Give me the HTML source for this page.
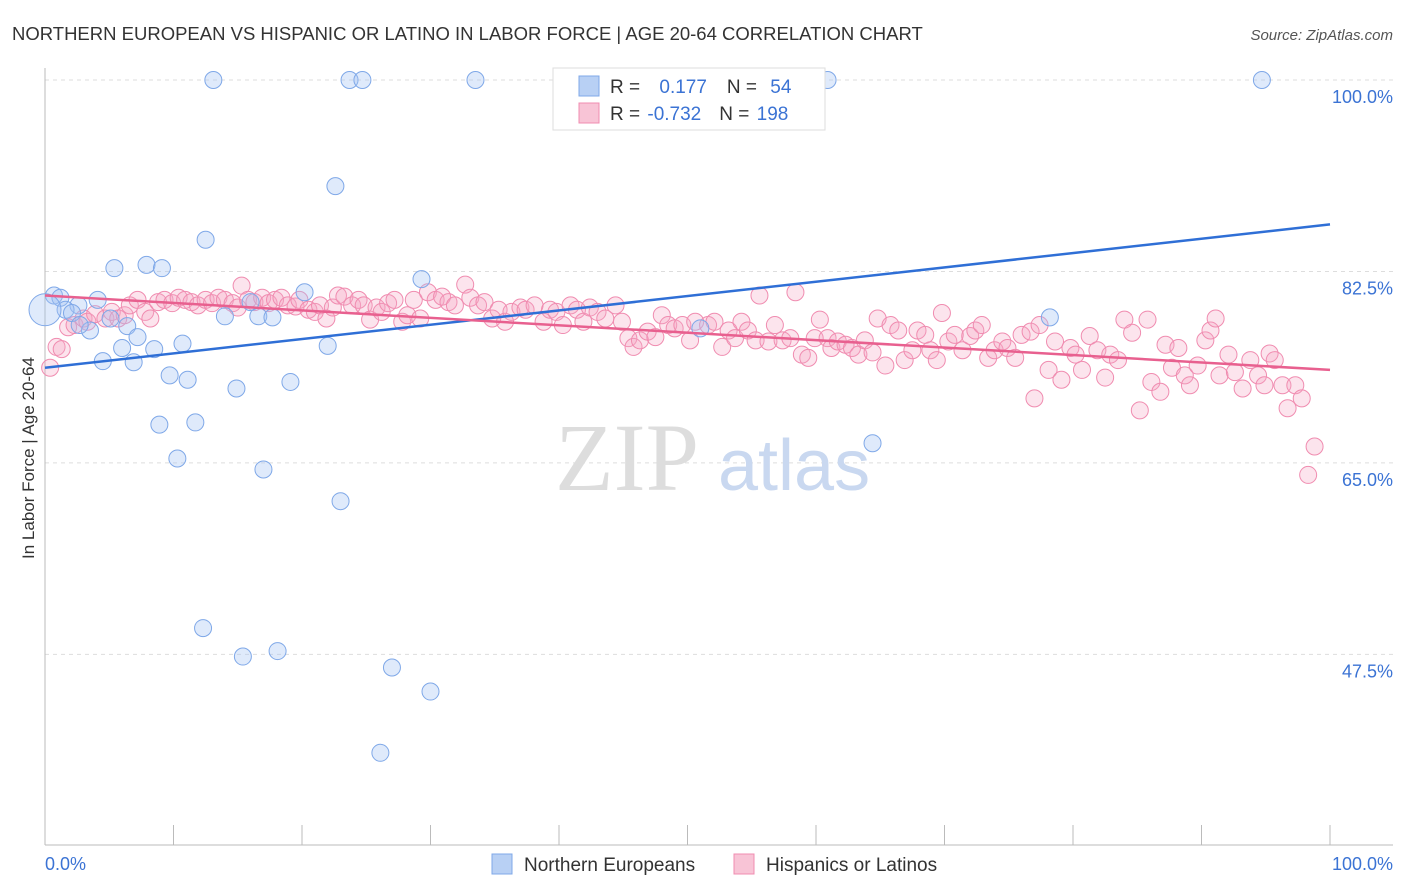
<!DOCTYPE html>
<html><head><meta charset="utf-8"><style>
body{margin:0;background:#fff;font-family:"Liberation Sans",sans-serif;}
svg{display:block}
</style></head><body>
<svg id="chart" width="1406" height="892" xmlns="http://www.w3.org/2000/svg">
<text x="12" y="40" font-size="18.5" fill="#333">NORTHERN EUROPEAN VS HISPANIC OR LATINO IN LABOR FORCE | AGE 20-64 CORRELATION CHART</text>
<text x="1393" y="40" font-size="15" fill="#555" font-style="italic" text-anchor="end">Source: ZipAtlas.com</text>
<text x="34" y="458" font-size="17" fill="#333" text-anchor="middle" transform="rotate(-90 34 458)">In Labor Force | Age 20-64</text>
<g id="grid"></g>
<g><text x="555" y="490" font-size="96" fill="#ddd" font-family="Liberation Serif,serif">ZIP</text><text x="718" y="490" font-size="72" fill="#c9d8f0">atlas</text></g>
<g id="pts"></g>
<g id="lines"></g>
<g>
<rect x="553" y="68" width="272" height="62" fill="#fff" stroke="#ddd"/>
<rect x="579" y="76" width="20" height="20" fill="#b8d0f4" stroke="#7fa8e8"/>
<rect x="579" y="103" width="20" height="20" fill="#f8c4d6" stroke="#f08cb0"/>
<text x="610" y="93" font-size="19" fill="#333">R = <tspan fill="#3b73d4" dx="14">0.177</tspan><tspan fill="#333" dx="20">N = </tspan><tspan fill="#3b73d4" dx="8">54</tspan></text>
<text x="610" y="120" font-size="19" fill="#333">R = <tspan fill="#3b73d4" dx="2">-0.732</tspan><tspan fill="#333" dx="18">N = </tspan><tspan fill="#3b73d4" dx="2">198</tspan></text>
</g>
<g>
<rect x="492" y="854" width="20" height="20" fill="#b8d0f4" stroke="#7fa8e8"/>
<text x="524" y="871" font-size="19" fill="#333">Northern Europeans</text>
<rect x="734" y="854" width="20" height="20" fill="#f8c4d6" stroke="#f08cb0"/>
<text x="766" y="871" font-size="19" fill="#333">Hispanics or Latinos</text>
</g>
</svg>
<script>
const yTicks=[100,82.5,65,47.5];
const yTickLabels=["100.0%","82.5%","65.0%","47.5%"];
const xTickLabels=["0.0%","100.0%"];
const blueX=[13.1,23.7,24.7,33.5,40.9,60.9,94.7,22.6,12.5,5.4,7.9,9.1,29.3,20.2,0.7,1.2,4.1,2.6,1.6,2.1,16.0,14.0,16.6,17.7,3.5,6.4,5.1,7.2,6.0,8.5,10.7,22.0,4.5,6.9,9.7,11.1,14.9,19.1,8.9,11.7,10.3,17.0,23.0,64.4,51.0,78.2,12.3,15.4,18.1,27.0,30.0,26.1,0,2.7];
const blueY=[100,100,100,100,100,100,100,90.3,85.4,82.8,83.1,82.8,81.8,80.6,80.3,80.1,79.9,79.4,79.0,78.7,79.7,78.4,78.4,78.3,77.1,77.5,78.2,76.5,75.5,75.4,75.9,75.7,74.3,74.2,73.0,72.6,71.8,72.4,68.5,68.7,65.4,64.4,61.5,66.8,77.3,78.3,49.9,47.3,47.8,46.3,44.1,38.5,79.0,77.6];
const pinkX=[0.4,0.9,1.3,1.8,2.3,3.0,3.3,3.9,4.7,5.2,5.7,6.2,6.6,7.2,7.8,8.2,8.8,9.3,9.9,10.4,10.9,11.4,11.9,12.5,13.0,13.5,14.0,14.6,15.3,15.0,15.8,16.3,16.9,17.4,17.9,18.4,18.9,19.5,19.8,20.5,21.0,21.4,21.9,22.4,22.8,23.3,23.9,24.4,24.8,25.3,25.8,26.2,26.7,27.2,27.8,28.2,28.7,29.2,29.8,30.4,30.9,31.4,31.9,32.7,33.1,33.7,34.2,34.8,35.3,35.8,36.3,37.0,37.4,38.1,38.8,39.3,39.8,40.3,40.9,41.4,41.9,42.4,43.0,43.6,44.4,44.9,45.4,45.8,46.3,46.9,47.5,48.0,48.5,49.0,49.6,50.2,50.6,51.6,52.1,52.7,53.2,53.7,54.2,54.7,55.3,55.6,56.3,56.8,57.4,58.0,58.4,58.9,59.4,59.9,60.3,60.9,61.2,61.7,62.3,62.8,63.3,63.8,64.4,64.8,65.4,65.8,66.4,66.9,67.5,67.9,68.5,68.9,69.4,69.8,70.3,70.8,71.4,72.0,72.4,72.9,73.4,73.9,74.5,74.9,75.5,76.0,76.7,77.0,77.4,78.1,78.6,79.1,79.8,80.2,80.7,81.3,81.9,82.5,82.9,83.5,84.0,84.6,85.2,85.8,86.1,86.8,87.2,87.7,88.2,88.7,89.1,89.7,90.3,90.7,91.1,91.4,92.1,92.6,93.2,93.8,94.4,94.9,95.3,95.7,96.3,96.7,97.3,97.8,98.3,98.8];
const pinkY=[73.7,75.6,75.4,77.4,77.6,78.2,77.9,78.6,78.2,78.8,78.2,78.5,79.4,79.9,78.8,78.2,79.7,79.9,79.6,80.1,79.9,79.7,79.4,79.9,79.6,80.1,79.9,79.6,81.2,79.2,79.9,79.7,80.1,79.6,79.9,80.1,79.4,79.3,79.9,79.0,78.8,79.4,78.2,79.2,80.3,80.2,79.4,79.9,79.4,78.1,79.2,78.8,79.6,79.9,77.9,78.5,79.9,78.2,80.6,79.9,80.2,79.7,79.4,81.3,80.1,79.4,79.7,78.2,79.0,77.9,78.8,79.2,79.0,79.4,77.9,79.0,78.8,77.6,79.4,79.0,77.9,79.2,78.8,78.2,79.4,77.9,76.4,75.6,76.2,77.0,76.5,78.5,77.6,77.3,77.6,76.2,77.9,77.6,77.9,75.6,77.1,76.4,77.9,77.1,76.2,80.3,76.1,77.6,76.2,76.4,80.6,74.9,74.6,76.4,78.1,76.4,75.5,76.1,75.8,75.5,74.9,76.2,75.1,78.2,73.9,77.6,77.1,74.4,75.3,77.1,76.7,75.3,74.4,78.7,76.1,76.7,75.3,76.6,77.1,77.6,74.6,75.3,76.1,75.5,74.6,76.7,77.0,70.9,77.6,73.5,76.1,72.6,75.5,74.9,73.5,76.6,75.3,72.8,74.9,74.4,78.1,76.9,69.8,78.1,72.4,71.5,75.8,73.7,75.5,73.0,72.1,73.9,76.2,77.1,78.2,73.0,74.9,73.3,71.8,74.4,73.0,72.1,75.0,74.4,72.1,70.0,72.1,70.9,63.9,66.5];
const blueLine=[73.7,86.8];
const pinkLine=[80.3,73.5];
const NS='http://www.w3.org/2000/svg';
const X=v=>45+v*12.85, Y=v=>80+(100-v)*10.94;
function mk(tag,attrs,parent){const e=document.createElementNS(NS,tag);for(const k in attrs)e.setAttribute(k,attrs[k]);parent.appendChild(e);return e;}
const grid=document.getElementById('grid');
yTicks.forEach((t,i)=>{
 const l=mk('line',{x1:45,x2:1393,y1:Y(t),y2:Y(t),stroke:'#ddd','stroke-dasharray':'4 4'},grid);
 
 
 const tx=mk('text',{x:1393,y:Y(t)+23,'font-size':18,fill:'#3b73d4','text-anchor':'end'},grid);
 tx.textContent=yTickLabels[i];
 
 
});
mk('line',{x1:45,x2:45,y1:68,y2:845,stroke:'#bbb'},grid);
mk('line',{x1:45,x2:1393,y1:845,y2:845,stroke:'#bbb'},grid);
for(let i=0;i<=10;i++){const t=mk('line',{x1:X(i*10),x2:X(i*10),y1:825,y2:845,stroke:'#bbb'},grid);
 
 }
const xl0=mk('text',{x:45,y:870,'font-size':18,fill:'#3b73d4'},grid);xl0.textContent=xTickLabels[0];


const xl1=mk('text',{x:1393,y:870,'font-size':18,fill:'#3b73d4','text-anchor':'end'},grid);xl1.textContent=xTickLabels[1];


const pts=document.getElementById('pts');
pinkX.forEach((x,i)=>{const c=mk('circle',{cx:X(x),cy:Y(pinkY[i]),r:8.5,fill:'rgba(244,164,194,0.3)',stroke:'#f08cb0','stroke-width':1},pts);
 
 });
blueX.forEach((x,i)=>{const big=(i===52);const c=mk('circle',{cx:X(x),cy:Y(blueY[i]),r:big?16:8.5,fill:'rgba(164,194,244,0.35)',stroke:'#7fa8e8','stroke-width':1},pts);
 
 });
const lines=document.getElementById('lines');
const bl=mk('line',{x1:X(0),y1:Y(blueLine[0]),x2:X(100),y2:Y(blueLine[1]),stroke:'#2f6fd6','stroke-width':2.5},lines);


const pl=mk('line',{x1:X(0),y1:Y(pinkLine[0]),x2:X(100),y2:Y(pinkLine[1]),stroke:'#e8608f','stroke-width':2.5},lines);


</script>
</body></html>
